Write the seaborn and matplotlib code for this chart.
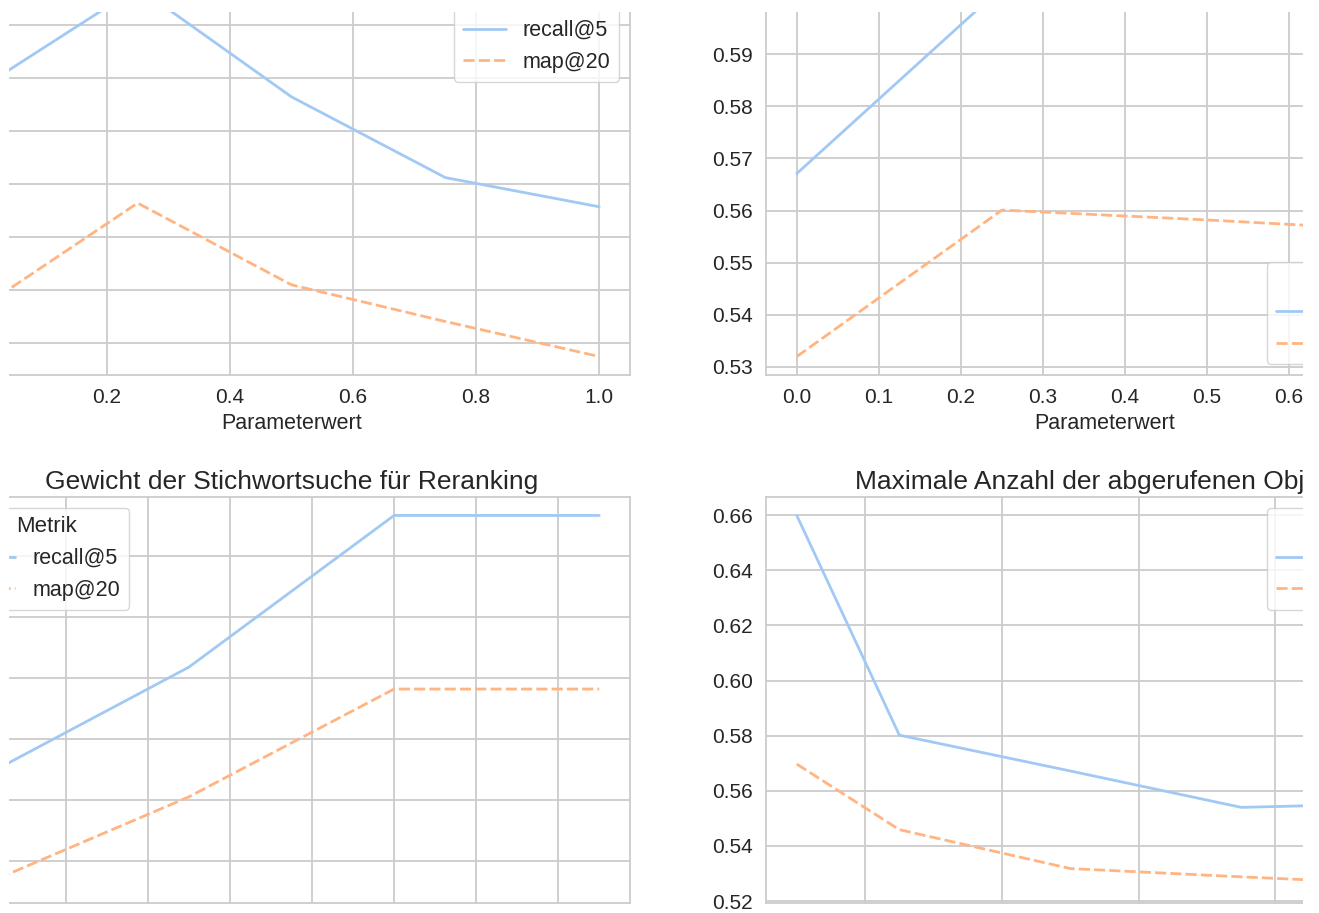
import matplotlib
matplotlib.use("Agg")
import matplotlib.pyplot as plt
from matplotlib.patches import Rectangle
import pandas as pd
import seaborn as sns

metrics = ["recall@5", "map@20"]

# Sweep 1 (top left)
a_x = [0.0, 0.25, 0.5, 0.75, 1.0]
a_recall = [0.5884, 0.6070, 0.5864, 0.5712, 0.5657]
a_map = [0.5470, 0.5664, 0.5510, 0.5441, 0.5375]

# Sweep 2 (top right)
b_x = [0.0, 0.25, 0.5, 0.75]
b_recall = [0.5671, 0.6028, 0.6010, 0.6000]
b_map = [0.5320, 0.5601, 0.5582, 0.5561]

# Gewicht der Stichwortsuche für Reranking
c_x = [0.0, 0.25, 0.5, 0.75]
c_recall = [0.5539, 0.5718, 0.5967, 0.5967]
c_map = [0.5361, 0.5505, 0.5682, 0.5682]

# Maximale Anzahl der abgerufenen Objekte
d_x = [10, 25, 50, 75, 100]
d_recall = [0.6599, 0.5802, 0.5672, 0.5540, 0.5555]
d_map = [0.5697, 0.5459, 0.5318, 0.5288, 0.5260]

titles = [None, None,
          "Gewicht der Stichwortsuche für Reranking",
          "Maximale Anzahl der abgerufenen Objekte"]
legend_locs = ["upper right", "lower right", "upper left", "upper right"]


def long_frame(xs, recall, mapv):
    rows = []
    for x, v in zip(xs, recall):
        rows.append({"Parameterwert": x, "Wert": v, "Metrik": metrics[0]})
    for x, v in zip(xs, mapv):
        rows.append({"Parameterwert": x, "Wert": v, "Metrik": metrics[1]})
    return pd.DataFrame(rows)


frames = [long_frame(a_x, a_recall, a_map),
          long_frame(b_x, b_recall, b_map),
          long_frame(c_x, c_recall, c_map),
          long_frame(d_x, d_recall, d_map)]

sns.set_theme(style="whitegrid", palette="pastel")
plt.rcParams.update({
    "font.family": ["Liberation Sans", "DejaVu Sans"],
    "xtick.labelsize": 15,
    "ytick.labelsize": 15,
    "axes.labelsize": 15.5,
    "axes.titlesize": 19,
    "legend.fontsize": 15.5,
    "legend.title_fontsize": 16,
    "lines.linewidth": 2.0,
    "grid.linewidth": 1.3,
    "axes.linewidth": 1.3,
})

W, H = 1319, 913
fig = plt.figure(figsize=(W / 100, H / 100), dpi=100)


def px_axes(left, top, right, bottom):
    return fig.add_axes([left / W, 1 - bottom / H, (right - left) / W, (bottom - top) / H])


boxes = [(-47, -31, 630, 375), (766, -31, 1443, 375),
         (-47, 497, 630, 903), (766, 497, 1443, 903)]

pal = sns.color_palette("pastel")[:2]
for df, box, title, loc in zip(frames, boxes, titles, legend_locs):
    ax = px_axes(*box)
    sns.lineplot(data=df, x="Parameterwert", y="Wert", hue="Metrik",
                 style="Metrik", palette=pal, ax=ax)
    ax.set_ylabel("")
    ax.set_xlabel("Parameterwert")
    if title:
        ax.set_title(title)
    sns.move_legend(ax, loc, title="Metrik")

# white page border around the panel grid
for (x0, y0, w, h) in [(0, 0, 9, H), (0, H - 12, W, 12), (1303, 0, W - 1303, H)]:
    fig.add_artist(Rectangle((x0 / W, y0 / H), w / W, h / H, transform=fig.transFigure,
                             facecolor="white", edgecolor="none", zorder=1000))

fig.savefig("out.png", dpi=100)
